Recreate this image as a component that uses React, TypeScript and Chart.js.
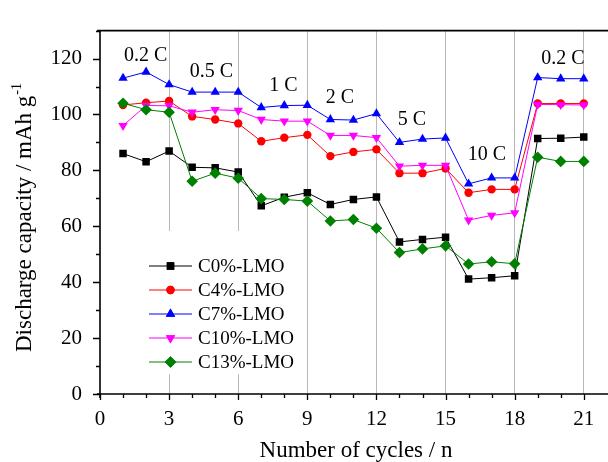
import React, { useEffect, useRef } from "react";
import { Chart, registerables } from "chart.js";
import { drawPoint } from "chart.js/helpers";

Chart.register(...registerables);

const cycles = [1, 2, 3, 4, 5, 6, 7, 8, 9, 10, 11, 12, 13, 14, 15, 16, 17, 18, 19, 20, 21];
const c0 = [86.0, 83.1, 86.9, 81.1, 80.9, 79.4, 67.3, 70.4, 72.0, 67.8, 69.6, 70.5, 54.4, 55.3, 56.1, 41.1, 41.6, 42.3, 91.4, 91.5, 91.9];
const c4 = [103.4, 104.2, 104.8, 99.3, 98.2, 96.8, 90.4, 91.7, 92.7, 85.1, 86.6, 87.5, 79.0, 79.0, 80.7, 72.0, 73.2, 73.2, 103.9, 103.9, 103.9];
const c7 = [113.0, 115.2, 110.7, 108.0, 108.0, 108.0, 102.5, 103.2, 103.3, 98.2, 98.0, 100.3, 90.0, 91.2, 91.6, 75.2, 77.3, 77.3, 113.2, 112.8, 112.8];
const c10 = [96.0, 103.2, 103.1, 100.8, 101.7, 101.4, 98.2, 97.6, 97.6, 92.5, 92.5, 91.7, 81.5, 81.8, 81.8, 62.2, 63.9, 64.8, 103.6, 103.5, 103.4];
const c13 = [104.0, 101.7, 100.8, 76.1, 79.0, 77.2, 69.9, 69.6, 69.0, 61.9, 62.4, 59.3, 50.6, 51.9, 53.0, 46.5, 47.3, 46.6, 84.7, 83.2, 83.2];

const seriesNames = ["C0%-LMO", "C4%-LMO", "C7%-LMO", "C10%-LMO", "C13%-LMO"];
const seriesValues = [c0, c4, c7, c10, c13];
const seriesColors = ["#000000", "#ff0000", "#0000ff", "#ff00ff", "#008000"];
const seriesShapes = ["rect", "circle", "triangle", "triangle", "rectRot"];
const seriesRotation = [0, 0, 0, 180, 0];
const seriesRadius = [5.3, 4.2, 5.4, 5.4, 5.8];

const rateLabels = ["0.2 C", "0.5 C", "1 C", "2 C", "5 C", "10 C", "0.2 C"];
const rateLabelX = [1.98, 4.84, 7.96, 10.42, 13.54, 16.8, 20.1];
const rateLabelY = [121.0, 115.3, 110.3, 106.0, 98.1, 85.7, 119.8];

const xTitle = "Number of cycles / n";
const yTitle = "Discharge capacity / mAh g";
const yTitleSup = "-1";

const FONT = "'Liberation Serif', 'Times New Roman', serif";

const decorPlugin = {
  id: "decor",
  afterDatasetsDraw(chart: any) {
    const ctx = chart.ctx;
    const xs = chart.scales.x;
    const ys = chart.scales.y;
    const area = chart.chartArea;
    ctx.save();
    // legend box (white, hides grid lines)
    ctx.fillStyle = "#ffffff";
    ctx.fillRect(140, 231, 160, 143);
    const rowY = [266, 290, 314, 338, 362];
    for (let i = 0; i < seriesNames.length; i++) {
      const y = rowY[i];
      ctx.strokeStyle = seriesColors[i];
      ctx.lineWidth = 1;
      ctx.beginPath();
      ctx.moveTo(149, y);
      ctx.lineTo(192, y);
      ctx.stroke();
      ctx.fillStyle = seriesColors[i];
      drawPoint(ctx, { pointStyle: seriesShapes[i], rotation: seriesRotation[i], radius: seriesRadius[i], borderWidth: 0 }, 170.5, y);
      ctx.fill();
      ctx.fillStyle = "#000";
      ctx.font = `19px ${FONT}`;
      ctx.textAlign = "left";
      ctx.textBaseline = "middle";
      ctx.fillText(seriesNames[i], 198, y + 1);
    }
    // rate annotations
    ctx.fillStyle = "#000";
    ctx.font = `20px ${FONT}`;
    ctx.textAlign = "center";
    ctx.textBaseline = "middle";
    for (let i = 0; i < rateLabels.length; i++) {
      ctx.fillText(rateLabels[i], xs.getPixelForValue(rateLabelX[i]), ys.getPixelForValue(rateLabelY[i]));
    }
    ctx.restore();
  },
  afterDraw(chart: any) {
    const ctx = chart.ctx;
    const xs = chart.scales.x;
    const ys = chart.scales.y;
    const area = chart.chartArea;
    ctx.save();
    ctx.strokeStyle = "#000";
    ctx.lineWidth = 1.6;
    // axes and top frame
    ctx.beginPath();
    ctx.moveTo(area.left, area.top);
    ctx.lineTo(area.left, area.bottom + 4);
    ctx.moveTo(area.left - 3, area.bottom);
    ctx.lineTo(chart.width, area.bottom);
    ctx.moveTo(area.left - 3, area.top);
    ctx.lineTo(chart.width, area.top);
    ctx.stroke();
    // ticks
    ctx.lineWidth = 1.3;
    ctx.beginPath();
    for (let v = 0; v <= 130; v += 10) {
      const py = Math.round(ys.getPixelForValue(v)) + 0.5;
      const len = v % 20 === 0 ? 7 : 4;
      ctx.moveTo(area.left - len, py);
      ctx.lineTo(area.left, py);
    }
    for (let v = 0; v <= 21; v += 1) {
      const px = Math.round(xs.getPixelForValue(v)) + 0.5;
      const len = v % 3 === 0 ? 6 : 4;
      ctx.moveTo(px, area.bottom);
      ctx.lineTo(px, area.bottom + len);
    }
    ctx.stroke();
    // titles
    ctx.fillStyle = "#000";
    ctx.font = `23px ${FONT}`;
    ctx.textAlign = "center";
    ctx.textBaseline = "alphabetic";
    ctx.fillText(xTitle, 356, 457);
    ctx.save();
    ctx.translate(31, 352);
    ctx.rotate(-Math.PI / 2);
    ctx.textAlign = "left";
    ctx.font = `23px ${FONT}`;
    ctx.fillText(yTitle, 0, 0);
    const w = ctx.measureText(yTitle).width;
    ctx.font = `14px ${FONT}`;
    ctx.fillText(yTitleSup, w + 1, -10);
    ctx.restore();
    ctx.restore();
  },
};

export default function App() {
  const ref = useRef<HTMLCanvasElement | null>(null);
  useEffect(() => {
    if (!ref.current) return;
    const datasets = seriesNames.map((name, i) => ({
      label: name,
      data: cycles.map((c, j) => ({ x: c, y: seriesValues[i][j] })),
      borderColor: seriesColors[i],
      backgroundColor: seriesColors[i],
      borderWidth: 1,
      pointStyle: seriesShapes[i],
      pointRotation: seriesRotation[i],
      pointRadius: seriesRadius[i],
      pointBorderWidth: 0,
      pointBackgroundColor: seriesColors[i],
      tension: 0,
      order: seriesNames.length - i,
    }));
    const chart = new Chart(ref.current, {
      type: "line",
      data: { datasets },
      options: {
        animation: false,
        responsive: false,
        devicePixelRatio: 1,
        layout: { padding: { top: 13, right: 0, left: 0, bottom: 0 } },
        plugins: { legend: { display: false }, tooltip: { enabled: false } },
        scales: {
          x: {
            type: "linear",
            min: 0,
            max: 21.8,
            afterFit: (s: any) => {
              s.height = 68;
            },
            border: { display: false },
            grid: {
              drawTicks: false,
              lineWidth: 1,
              color: (c: any) =>
                c.tick && c.tick.value % 3 === 0 && c.tick.value > 0 ? "#b8b8b8" : "rgba(0,0,0,0)",
            },
            ticks: {
              stepSize: 1,
              includeBounds: false,
              autoSkip: false,
              maxRotation: 0,
              padding: 13,
              color: "#000",
              font: { family: FONT, size: 21 },
              callback: (v: any) => (v % 3 === 0 ? String(v) : ""),
            },
          },
          y: {
            min: 0,
            max: 130,
            afterFit: (s: any) => {
              s.width = 100;
            },
            border: { display: false },
            grid: { display: false, drawTicks: false },
            ticks: {
              stepSize: 10,
              autoSkip: false,
              padding: 18,
              color: "#000",
              font: { family: FONT, size: 21 },
              callback: (v: any) => (v % 20 === 0 ? String(v) : ""),
            },
          },
        },
      },
      plugins: [decorPlugin],
    });
    return () => chart.destroy();
  }, []);
  return (
    <div style={{ position: "fixed", left: 0, top: 0, width: 608, height: 462, background: "#fff" }}>
      <canvas ref={ref} width={608} height={462} style={{ display: "block" }} />
    </div>
  );
}
